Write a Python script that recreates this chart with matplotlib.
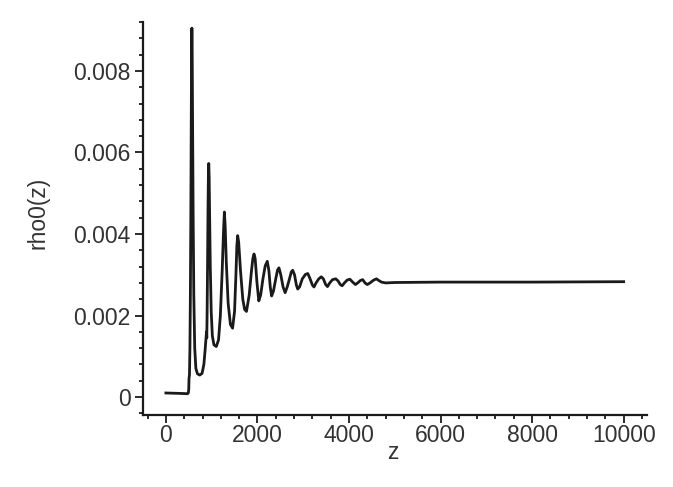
import numpy as np
import matplotlib
matplotlib.use('Agg')
import matplotlib.pyplot as plt
from matplotlib.ticker import MultipleLocator, FixedLocator, FixedFormatter

# curve (z, rho0)
z_pts = [0, 150, 300, 420, 470, 490, 500, 505, 515, 525, 535, 545, 555, 563, 568,
         573, 582, 595, 610, 630, 655, 690, 740, 790, 830, 860, 880, 888, 893, 900,
         910, 920, 930, 937, 945, 955, 970, 990, 1015, 1050, 1100, 1150, 1190, 1230,
         1260, 1278, 1295, 1320, 1360, 1410, 1457, 1500, 1530, 1550, 1568, 1590, 1630,
         1680, 1720, 1760, 1820, 1870, 1900, 1925, 1950, 1990, 2030, 2070, 2120, 2170,
         2215, 2250, 2280, 2310, 2350, 2400, 2440, 2470, 2510, 2560, 2605, 2650, 2700,
         2740, 2770, 2810, 2850, 2880, 2920, 2980, 3050, 3100, 3150, 3200, 3235, 3280,
         3340, 3395, 3440, 3490, 3530, 3580, 3640, 3710, 3760, 3810, 3850, 3900, 3960,
         4020, 4080, 4140, 4190, 4250, 4300, 4350, 4400, 4460, 4540, 4600, 4650, 4710,
         4800, 5000, 6000, 8000, 10000]
rho_pts = [0.00010, 0.000095, 0.00009, 0.000085, 0.00008, 0.00010, 0.00020, 0.00045,
           0.00055, 0.0012, 0.0025, 0.0045, 0.0070, 0.0088, 0.00905,
           0.0088, 0.0070, 0.0045, 0.0025, 0.0012, 0.0007, 0.00057, 0.00054, 0.00058,
           0.0008, 0.0012, 0.0015, 0.00160, 0.00145, 0.0020,
           0.0032, 0.0046, 0.0056, 0.00573, 0.0054, 0.0045, 0.0032, 0.0021, 0.0015,
           0.00128, 0.00124, 0.0014, 0.0020, 0.0031,
           0.0041, 0.00454, 0.0042, 0.0033, 0.0023, 0.00178, 0.00169, 0.0021, 0.0030,
           0.0037, 0.00396, 0.0038, 0.0031,
           0.0024, 0.00215, 0.0021, 0.0025, 0.0031, 0.0034, 0.00351, 0.0034, 0.0028,
           0.00236, 0.0025, 0.0029, 0.00322,
           0.00333, 0.0031, 0.0027, 0.00248, 0.0026, 0.0029, 0.00312, 0.00317, 0.0030,
           0.0027, 0.00256, 0.0027, 0.0029,
           0.00307, 0.00311, 0.0030, 0.00275, 0.00265, 0.0027, 0.0029, 0.00301, 0.00303,
           0.0029, 0.00275, 0.0027, 0.0028,
           0.0029, 0.00295, 0.0029, 0.00276, 0.00271, 0.0028, 0.00288, 0.0029, 0.00285,
           0.00276, 0.00273, 0.0028, 0.00287,
           0.00289, 0.00282, 0.00276, 0.0028, 0.00286, 0.00288, 0.0028, 0.00276, 0.0028,
           0.00287, 0.0029, 0.00286, 0.00282,
           0.0028, 0.00281, 0.00282, 0.00282, 0.00283]

x_ticks = [0, 2000, 4000, 6000, 8000, 10000]
x_labels = ['0', '2000', '4000', '6000', '8000', '10000']
y_ticks = [0, 0.002, 0.004, 0.006, 0.008]
y_labels = ['0', '0.002', '0.004', '0.006', '0.008']

plt.rcParams['font.family'] = ['Liberation Sans', 'DejaVu Sans']

fig = plt.figure(figsize=(6.73, 4.87), dpi=100)
ax = fig.add_axes([143 / 673, 72 / 487, 504 / 673, 393 / 487])

ax.plot(z_pts, rho_pts, color='#1a1a1a', lw=2.0, solid_joinstyle='round')

ax.set_xlim(-500, 10510)
ax.set_ylim(-0.00044, 0.0092)

for s in ['top', 'right']:
    ax.spines[s].set_visible(False)
for s in ['left', 'bottom']:
    ax.spines[s].set_linewidth(1.6)
    ax.spines[s].set_color('#1a1a1a')

ax.xaxis.set_major_locator(FixedLocator(x_ticks))
ax.xaxis.set_major_formatter(FixedFormatter(x_labels))
ax.yaxis.set_major_locator(FixedLocator(y_ticks))
ax.yaxis.set_major_formatter(FixedFormatter(y_labels))
ax.xaxis.set_minor_locator(MultipleLocator(400))
ax.yaxis.set_minor_locator(MultipleLocator(0.0004))

ax.tick_params(axis='both', which='major', length=5.5, width=1.3, labelsize=16.5,
               color='#1a1a1a', labelcolor='#333333')
ax.tick_params(axis='both', which='minor', length=3, width=1.3, color='#1a1a1a')
ax.tick_params(axis='x', which='major', pad=1)
ax.tick_params(axis='y', which='major', pad=3.5)

ax.set_xlabel('z', fontsize=16.5, color='#333333', va='baseline')
ax.xaxis.set_label_coords(0.496, -0.112)
ax.set_ylabel('rho0(z)', fontsize=16.5, color='#333333', va='center')
ax.yaxis.set_label_coords(-0.209, 0.514)

fig.savefig('out.png', dpi=100)
